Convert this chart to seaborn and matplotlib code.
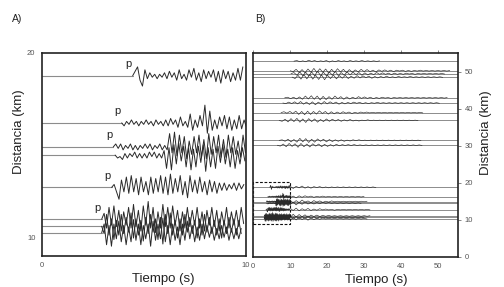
import numpy as np
import pandas as pd
import matplotlib
matplotlib.use("Agg")
import matplotlib.pyplot as plt
import seaborn as sns

sns.set_style("white")
plt.rcParams['font.family'] = ['Liberation Sans', 'DejaVu Sans']

# ---------------- data ----------------
# Panel A: station distance (km), P onset time (s), waveform samples (units of AMP km)
dist_a = [18.75, 16.2, 14.9, 14.46, 12.71, 10.99, 10.61, 10.25]
onset_a = [4.46, 3.92, 3.51, 3.60, 3.43, 2.94, 2.94, 2.94]
w1 = [0, 3, 6, -3, -7, 4, -2, 2, -1, 1, -2, 1, -1, 2, -2, 3, -1, 2, -3, 4, -2, 1, -3, 4, -1, 5,
      -3, 2, -4, 4, -2, 3, -1, 4, -4, 3, -5, 4, -2, 3, -4, 2, -3, 5, -3, 6]
w2 = [0, -2, 1, -1, 2, -1, 1, -2, 1, -1, 2, -1, 1, -2, 2, -1, 1, -2, 2, -2, 3, -1, 2, -3, 4, -2,
      1, -3, 6, -5, 2, -3, 5, -2, 12, -7, 8, -5, 2, -4, 4, -2, 5, -4, 4, -5, 2, -4, 5, -4, 2, -3, 4]
w3 = [0, 2, -1, 2, -2, 1, -1, 2, -2, 1, -2, 1, -1, 2, -1, 2, -2, 1, -1, 2, -2, 1, -2, 9, -4, 10,
      -6, 8, -4, 7, -8, 4, -5, 7, -4, 8, -7, 5, -8, 9, -5, 7, -4, 8, -7, 5, -7, 8, -4, 7, -5, 4, -7, 8, -4]
w4 = [0, -2, -1, -3, 1, -2, 1, -1, 2, -2, 1, -2, 1, -2, 2, -1, 2, -2, 1, -2, 3, -9, 5, -10, 7,
      -6, 8, -4, 6, -8, 5, -10, 4, -8, 6, -5, 7, -11, 5, -8, 4, -9, 6, -5, 7, -6, 4, -8, 5, -9, 3, -6, 5, -4]
w5 = [0, 2, -3, -8, 5, -3, 7, -4, 8, -3, 6, -5, 7, -3, 4, -5, 7, -4, 6, -3, 8, -4, 7, -5, 9, -4,
      6, -3, 8, -5, 4, -7, 8, -3, 5, -4, 7, -3, 4, -5, 5, -3, 4, -4, 3, -2, 3, -2, 2, -1, 3, -2, 3, -1, 2]
w6 = [0, 4, -6, 8, -4, 9, -5, 6, -8, 5, -4, 8, -6, 10, -5, 6, -8, 9, -4, 12, -6, 8, -9, 5, -6, 10,
      -5, 8, -6, 9, -4, 6, -8, 5, -6, 8, -5, 6, -4, 8, -6, 5, -8, 6, -4, 8, -5, 6, -8, 5, -4, 8, -6, 5, -4, 6, -5, 8, -3]
w7 = [0, -5, 8, -6, 5, -9, 4, -6, 8, -5, 6, -4, 9, -8, 5, -6, 4, -10, 6, -5, 8, -4, 5, -9, 6, -12,
      8, -5, 9, -6, 4, -8, 5, -6, 8, -4, 6, -5, 4, -8, 5, -6, 8, -4, 6, -5, 4, -6, 5, -8, 4, -5, 6, -4, 5, -6, 4, -5]
w8 = [0, 6, -8, 5, -9, 6, -4, 8, -6, 5, -8, 4, -6, 9, -5, 6, -8, 5, -4, 6, -9, 8, -5, 6, -4, 10,
      -6, 5, -8, 6, -5, 4, -8, 6, -5, 8, -4, 5, -6, 4, -5, 6, -4, 5, -3, 4, -5, 3, -4, 5, -3, 4, -5, 3, -4, 3, -4, 3]
waves_a = [w1, w2, w3, w4, w5, w6, w7, w8]
p_traces = [0, 1, 2, 4, 5]

# Panel B coda of the same stations after 10 s
c1 = [3, -4, 3, -2, 4, -3, 2, -3, 2, -1, 2, -2, 1, -2, 1, -1, 1, -1, 1, -1, 1, -1, 1, -1, 1, -1, 1, -1, 1, -1]
c2 = [-3, 2, -4, 3, -2, 3, -1, 2, -2, 1, -1, 2, -1, 1, -1, 1, -1, 1, -1, 1, -1, 1, -1, 1, -1, 1]
c3 = [4, -5, 3, -4, 5, -3, 2, -4, 3, -2, 2, -3, 1, -2, 2, -1, 1, -1, 1, -1, 1, -1, 1, -1, 1, -1, 1]
c4 = [-5, 4, -6, 3, -4, 5, -3, 2, -3, 2, -2, 3, -1, 2, -1, 1, -1, 1, -1, 1, -1, 1, -1, 1, -1]
c5 = [4, -3, 5, -4, 3, -2, 4, -3, 2, -2, 3, -1, 2, -1, 1, -2, 1, -1, 1, -1, 1, -1, 1, -1, 1, -1, 1, -1]
c6 = [-5, 6, -4, 5, -3, 4, -5, 3, -2, 3, -2, 2, -1, 2, -1, 1, -1, 1, -1, 1, -1, 1, -1, 1, -1, 1, -1, 1]
c7 = [5, -6, 4, -5, 3, -4, 5, -3, 2, -3, 2, -2, 1, -2, 1, -1, 1, -1, 1, -1, 1, -1, 1, -1, 1, -1]
c8 = [-6, 5, -4, 6, -3, 4, -5, 3, -3, 2, -2, 3, -1, 2, -1, 1, -1, 1, -1, 1, -1, 1, -1, 1, -1, 1, -1]
codas_b = [c1, c2, c3, c4, c5, c6, c7, c8]

# Panel B: farther stations
dist_b = [52.8, 50.2, 49.4, 48.5, 42.9, 41.5, 38.9, 36.8, 31.4, 30.1]
onset_b = [11.0, 10.0, 10.2, 10.5, 8.5, 8.0, 7.5, 7.0, 7.0, 6.5]
u1 = [0, 2, -2, 1, -2, 3, -1, 2, -2, 1, -1, 2, -3, 1, -2, 2, -1, 1, -2, 2, -1, 1, -1, 2, -1, 1, -1, 1, -1, 1]
u2 = [0, -3, 5, -6, 4, -7, 6, -5, 8, -6, 7, -5, 6, -8, 5, -6, 7, -4, 5, -6, 4, -5, 3, -4, 5, -3, 4, -3,
      2, -4, 3, -2, 3, -2, 2, -3, 2, -1, 2, -2, 1, -2, 1, -1, 2, -1, 1, -1, 1, -1, 1, -1, 1, -1, 1]
u3 = [0, 4, -5, 6, -7, 5, -8, 6, -7, 9, -6, 5, -7, 6, -5, 8, -6, 4, -5, 6, -4, 5, -3, 4, -5, 3, -4, 2,
      -3, 4, -2, 3, -2, 2, -3, 2, -2, 1, -2, 2, -1, 1, -2, 1, -1, 1, -1, 1, -1, 1, -1, 1, -1]
u4 = [0, -5, 6, -7, 8, -6, 9, -7, 6, -8, 7, -9, 6, -5, 7, -6, 5, -4, 6, -5, 3, -4, 5, -3, 4, -2, 3, -4,
      2, -3, 2, -2, 3, -2, 1, -2, 2, -1, 1, -1, 2, -1, 1, -1, 1, -1, 1, -1, 1, -1, 1, -1]
u5 = [0, 2, -3, 2, -4, 3, -5, 6, -4, 7, -5, 6, -7, 5, -6, 4, -5, 6, -3, 4, -5, 3, -4, 2, -3, 4, -2, 3,
      -2, 2, -3, 1, -2, 2, -1, 1, -2, 1, -1, 1, -1, 1, -1, 1, -1, 1, -1, 1, -1, 1, -1, 1, -1, 1, -1, 1]
u6 = [0, -2, 3, -2, 4, -3, 5, -4, 3, -5, 4, -6, 3, -4, 5, -3, 4, -2, 3, -4, 2, -3, 2, -2, 3, -1, 2, -2,
      1, -2, 1, -1, 2, -1, 1, -1, 1, -1, 1, -1, 1, -1, 1, -1, 1, -1, 1, -1, 1, -1, 1, -1, 1, -1]
u7 = [0, 3, -2, 4, -3, 5, -6, 4, -7, 5, -6, 4, -5, 6, -3, 4, -5, 3, -4, 2, -3, 3, -2, 2, -3, 1, -2, 2,
      -1, 2, -1, 1, -1, 1, -1, 1, -1, 1, -1, 1, -1, 1, -1, 1, -1, 1, -1, 1, -1]
u8 = [0, -3, 4, -5, 6, -4, 7, -6, 5, -7, 6, -4, 5, -6, 3, -4, 5, -3, 4, -2, 3, -3, 2, -2, 3, -2, 1, -2,
      1, -1, 2, -1, 1, -1, 1, -1, 1, -1, 1, -1, 1, -1, 1, -1, 1, -1, 1, -1]
u9 = [0, 2, -3, 4, -5, 3, -6, 7, -5, 6, -7, 4, -6, 5, -3, 4, -5, 3, -4, 2, -3, 2, -3, 1, -2, 2, -1, 2,
      -1, 1, -1, 1, -1, 1, -1, 1, -1, 1, -1, 1, -1, 1, -1, 1, -1, 1, -1, 1, -1]
u10 = [0, -3, 4, -5, 6, -4, 5, -7, 6, -5, 4, -6, 5, -3, 4, -5, 3, -4, 2, -3, 3, -2, 2, -1, 2, -1, 2, -1,
       1, -1, 1, -1, 1, -1, 1, -1, 1, -1, 1, -1, 1, -1, 1, -1, 1, -1, 1, -1, 1, -1]
waves_b = [u1, u2, u3, u4, u5, u6, u7, u8, u9, u10]

box_t = [0, 10]
box_d = [8.75, 20.3]

# ---------------- style ----------------
AMP = 0.08      # km per sample unit
DT_A = 0.12     # s between samples, panel A
DT_B = 0.8      # s between samples, coda / far traces
WAVE_C = "#2a2a2a"
BASE_C = "#8c8c8c"
TICK_C = "#555555"

fig = plt.figure(figsize=(5.04, 2.87), dpi=100)
axA = fig.add_axes([0.0827, 0.108, 0.4048, 0.7086])
axB = fig.add_axes([0.5026, 0.1056, 0.4067, 0.711])

# ---- build long-form tables ----
rows = []
base_rows = []
for i, (d, t0, w) in enumerate(zip(dist_a, onset_a, waves_a)):
    t = t0 + DT_A * np.arange(len(w))
    for tt, v in zip(t, w):
        rows.append(("a%d" % i, tt, d + AMP * v))
    base_rows.append(("a%d" % i, 0.0, d))
    base_rows.append(("a%d" % i, t0, d))
dfA = pd.DataFrame(rows, columns=["trace", "t", "y"])
dfA_base = pd.DataFrame(base_rows, columns=["trace", "t", "y"])

sns.lineplot(data=dfA_base, x="t", y="y", units="trace", estimator=None, sort=False,
             color=BASE_C, lw=0.8, ax=axA)
sns.lineplot(data=dfA, x="t", y="y", units="trace", estimator=None, sort=False,
             color=WAVE_C, lw=0.7, ax=axA)
for i in p_traces:
    axA.text(onset_a[i] - 0.05, dist_a[i] + 0.35, "p", fontsize=8, color="#222222",
             ha="right", va="bottom")

axA.set_xlim(0, 10)
axA.set_ylim(9, 20)
axA.set_xticks([0, 10])
axA.set_yticks([10, 20])
axA.set_xlabel("Tiempo (s)", fontsize=9.5)
axA.set_ylabel("Distancia (km)", fontsize=9.5)
axA.xaxis.set_label_coords(0.595, -0.085)
axA.yaxis.set_label_coords(-0.08, 0.61)

# ---- panel B ----
rowsB = []
baseB = []
for i, (d, t0, w) in enumerate(zip(dist_a, onset_a, waves_a)):
    t = t0 + DT_A * np.arange(len(w))
    for tt, v in zip(t, w):
        rowsB.append(("l%d" % i, tt, d + AMP * v))
    c = codas_b[i]
    tc = 10.0 + DT_B * np.arange(len(c))
    for tt, v in zip(tc, c):
        rowsB.append(("l%d" % i, tt, d + AMP * v))
    baseB.append(d)
for i, (d, t0, w) in enumerate(zip(dist_b, onset_b, waves_b)):
    t = t0 + DT_B * np.arange(len(w))
    for tt, v in zip(t, w):
        rowsB.append(("u%d" % i, tt, d + AMP * v))
    baseB.append(d)
dfB = pd.DataFrame(rowsB, columns=["trace", "t", "y"])
for d in baseB:
    axB.axhline(d, color=BASE_C, lw=0.7, zorder=1)
sns.lineplot(data=dfB, x="t", y="y", units="trace", estimator=None, sort=False,
             color=WAVE_C, lw=0.45, ax=axB)
axB.plot([box_t[0], box_t[1], box_t[1], box_t[0], box_t[0]],
         [box_d[0], box_d[0], box_d[1], box_d[1], box_d[0]],
         ls=(0, (2.5, 1.5)), color="#111111", lw=0.8, clip_on=False)

axB.set_xlim(0, 55.5)
axB.set_ylim(0, 55.1)
axB.set_xticks([0, 10, 20, 30, 40, 50])
axB.set_yticks([0, 10, 20, 30, 40, 50])
axB.yaxis.tick_right()
axB.yaxis.set_label_position("right")
axB.tick_params(axis="x", top=True)
axB.set_xlabel("Tiempo (s)", fontsize=9.5)
axB.set_ylabel("Distancia (km)", fontsize=9.5)
axB.xaxis.set_label_coords(0.60, -0.085)
axB.yaxis.set_label_coords(1.105, 0.61)

for ax in (axA, axB):
    for s in ax.spines.values():
        s.set_linewidth(1.2)
        s.set_color("#222222")
    ax.tick_params(labelsize=5.5, labelcolor=TICK_C, length=2.5, width=0.5,
                   color=TICK_C, pad=2)
    ax.xaxis.label.set_color("#222222")
    ax.yaxis.label.set_color("#222222")
axB.tick_params(axis="y", left=False, right=True)

fig.text(0.024, 0.935, "A)", fontsize=7.5, color="#222222", va="center")
fig.text(0.506, 0.935, "B)", fontsize=7.5, color="#222222", va="center")

fig.savefig("out.png", dpi=100)
